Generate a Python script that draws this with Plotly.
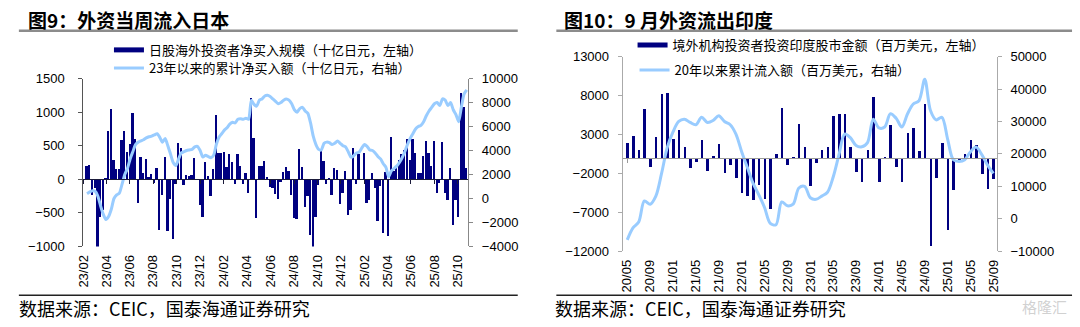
import plotly.graph_objects as go
import pandas as pd

W, H = 1080, 327

# ---------------- Data: Japan (weekly, 10亿日元) ----------------
jp_start = "2023-02-10"
jp_flow = [200, 215, -220, -120, -1020, -560, -450, 25, 720, 1050,
           300, 160, 160, 590, 720, 410, 530, 990, 600, -345,
           340, 95, 305, 45, 85, -55, 175, -750, -230, 340,
           -760, -285, -880, -65, 545, 470, -80, 75, 50, 65,
           320, 5, -370, -560, 260, 60, -240, 165, 970, 395,
           400, 410, 185, 385, 265, -70, 380, 200, -60, 100,
           -195, 1215, 620, -575, 205, 200, 275, 45, -105, -125,
           -205, -290,
           -30, 118, 194, 133, -223, -564, -578, 460, 190, -412,
           -246, -815, -1020, -554, -80,
           427, 275, -57, 20, -223, 180, 147, -365, -199, 137,
           -522, -450, 479, -70, 384, 10, 398, -341, -294, 100,
           -128, -611, -90, -796, 110, -830,
           630, 130, 200, 290, 390, 440, 600, 290, 600, 400,
           100, 100, 360, 580, 400, 210, 580, -200, -45, 560,
           -200, -300, 170, -670, -300, -550, 1290, 1080, 175]
jp_cum = [400, 550, 650, 600, 200, -600, -1300, -1750, -1500, -900,
          0, 300, 450, 1200, 2000, 2500, 3300, 3900, 4500, 4700,
          4800, 4900, 5050, 5150, 5200, 5300, 5400, 5100, 4700, 5000,
          4400, 3700, 3000, 2750, 3300, 3800, 3900, 4000, 4050, 4100,
          4300, 4350, 4000, 3450, 3600, 3500, 3400, 3600, 4500, 5100,
          5400, 5700, 5900, 6200, 6350, 6300, 6600, 6650, 6600, 6700,
          6600, 8200, 7850, 7700, 8200, 8300, 8550, 8600, 8500, 8300,
          8100, 7900,
          8000, 8200, 8300, 8200, 7900, 7400, 7200, 7500, 7600, 7300,
          7100, 6300, 5200, 4500, 4100,
          4050, 4600, 4700, 4650, 4500, 4600, 4800, 4600, 4400, 4300,
          3900, 3450, 3550, 3800, 3850, 4200, 4500, 4350, 4050, 4000,
          3800, 3500, 3300, 2900, 2600, 1800,
          2300, 2500, 2700, 3000, 3400, 3900, 4500, 5000, 5400, 5800,
          6000, 6100, 6400, 6900, 7300, 7600, 7900, 8000, 7750, 8300,
          8200, 7750, 8000, 7400, 7000, 6400, 7600, 8700, 9050]
jp_dates = pd.date_range(jp_start, periods=len(jp_flow), freq="7D")
jp_tick_dates = ["2023-02-01", "2023-04-01", "2023-06-01", "2023-08-01", "2023-10-01",
                 "2023-12-01", "2024-02-01", "2024-04-01", "2024-06-01", "2024-08-01",
                 "2024-10-01", "2024-12-01", "2025-02-01", "2025-04-01", "2025-06-01",
                 "2025-08-01", "2025-10-01"]
jp_tick_labels = ["23/02", "23/04", "23/06", "23/08", "23/10", "23/12", "24/02", "24/04",
                  "24/06", "24/08", "24/10", "24/12", "25/02", "25/04", "25/06", "25/08", "25/10"]

# ---------------- Data: India (monthly, 百万美元) ----------------
in_months = ["20/05", "20/06", "20/07", "20/08", "20/09", "20/10", "20/11", "20/12",
             "21/01", "21/02", "21/03", "21/04", "21/05", "21/06", "21/07", "21/08",
             "21/09", "21/10", "21/11", "21/12", "22/01", "22/02", "22/03", "22/04",
             "22/05", "22/06", "22/07", "22/08", "22/09", "22/10", "22/11", "22/12",
             "23/01", "23/02", "23/03", "23/04", "23/05", "23/06", "23/07", "23/08",
             "23/09", "23/10", "23/11", "23/12", "24/01", "24/02", "24/03", "24/04",
             "24/05", "24/06", "24/07", "24/08", "24/09", "24/10", "24/11", "24/12",
             "25/01", "25/02", "25/03", "25/04", "25/05", "25/06", "25/07", "25/08", "25/09"]
in_flow = [2000, 2900, 1000, 6300, -1100, 2700, 8200, 8400, 2500, 3600,
           1500, -1300, -450, 2400, -1600, 300, 1800, -1900, -850, -2600,
           -4500, -4800, -5400, -3500, -5200, -6500, 600, 6500, -900, 100,
           4400, 1400, -3600, -650, 1000, 1500, 5400, 5700, 5700, 1500,
           -1800, -3000, 1000, 7900, -3100, 200, 4300, -1100, -3100, 3200,
           3900, 900, 6900, -11300, -2600, 1900, -9200, -4100, -200, 500,
           2300, 1700, -2000, -4000, -2700]
in_cum = [-6500, -2800, -1000, 5500, 4500, 7000, 14000, 22000, 26800, 30000,
          30700, 29700, 29000, 31300, 29700, 30300, 31800, 30000, 29000, 26100,
          20700, 15800, 10900, 7400, 3500, -1400, -1800, 5200, 4000, 4500,
          9500, 10000, 6500, 6000, 7000, 8200, 12900, 19700, 26100, 25000,
          22600, 22200, 23500, 30700, 28000, 28300, 32400, 31000, 28300, 32400,
          35400, 36400, 43000, 33400, 30500, 31300, 24600, 18200, 17700, 18200,
          20700, 22100, 19700, 16500, 14000]
in_tick_labels = ["20/05", "20/09", "21/01", "21/05", "21/09", "22/01", "22/05", "22/09",
                  "23/01", "23/05", "23/09", "24/01", "24/05", "24/09", "25/01", "25/05", "25/09"]

jp_bar_name = "日股海外投资者净买入规模（十亿日元，左轴）"
jp_line_name = "23年以来的累计净买入额（十亿日元，右轴）"
in_bar_name = "境外机构投资者投资印度股市金额（百万美元，左轴）"
in_line_name = "20年以来累计流入额（百万美元，右轴）"

NAVY = "#000080"
LBLUE = "#99CCFF"
CJK = "Noto Sans CJK SC"
NUM = "Liberation Sans, Arial, sans-serif"


def px(x):
    return x / W


def py(y):
    return 1 - y / H


jp_yrange = [-1000, 1500]
jp_y2range = [-4000, 10000]
in_yrange = [-12000, 13000]
in_y2range = [-10000, 50000]
jp_ydom = [py(251), py(75)]
in_ydom = [py(256), py(52)]


def zero_pos(dom, rng):
    return dom[0] + (0 - rng[0]) / (rng[1] - rng[0]) * (dom[1] - dom[0])


fig = go.Figure()

# Japan
fig.add_trace(go.Bar(x=jp_dates, y=jp_flow, marker=dict(color=NAVY, line=dict(width=0)),
                     width=4.6 * 86400000, xaxis="x", yaxis="y", showlegend=False,
                     name=jp_bar_name, legendgroup="jpb"))
fig.add_trace(go.Scatter(x=[None], y=[None], mode="lines", line=dict(color=NAVY, width=5),
                         name=jp_bar_name, legendgroup="jpb", legend="legend",
                         xaxis="x", yaxis="y"))
fig.add_trace(go.Scatter(x=jp_dates, y=jp_cum, mode="lines",
                         line=dict(color=LBLUE, width=3, shape="spline", smoothing=0.6),
                         xaxis="x", yaxis="y2", name=jp_line_name, legend="legend2"))
fig.add_trace(go.Scatter(x=[jp_dates[0]], y=[0], mode="markers", marker=dict(opacity=0),
                         xaxis="x3", yaxis="y", showlegend=False, hoverinfo="skip"))

# India
fig.add_trace(go.Bar(x=in_months, y=in_flow, marker=dict(color=NAVY, line=dict(width=0)),
                     width=0.45, xaxis="x2", yaxis="y3", showlegend=False,
                     name=in_bar_name, legendgroup="inb"))
fig.add_trace(go.Scatter(x=[None], y=[None], mode="lines", line=dict(color=NAVY, width=5),
                         name=in_bar_name, legendgroup="inb", legend="legend3",
                         xaxis="x2", yaxis="y3"))
fig.add_trace(go.Scatter(x=in_months, y=in_cum, mode="lines",
                         line=dict(color=LBLUE, width=3, shape="spline", smoothing=0.9),
                         xaxis="x2", yaxis="y4", name=in_line_name, legend="legend4"))
fig.add_trace(go.Scatter(x=[in_months[0]], y=[0], mode="markers", marker=dict(opacity=0),
                         xaxis="x4", yaxis="y3", showlegend=False, hoverinfo="skip"))

tickfont = dict(family=NUM, size=13, color="#000")
yax_common = dict(showgrid=False, zeroline=False, showline=True, linewidth=1,
                  ticks="outside", ticklen=4, tickfont=tickfont, fixedrange=True,
                  tickformat="d")

legend_common = dict(font=dict(family=CJK, size=13, color="#000"), bgcolor="rgba(0,0,0,0)",
                     xanchor="left", yanchor="middle", itemwidth=30, borderwidth=0,
                     tracegroupgap=0)

fig.update_layout(
    width=W, height=H, margin=dict(l=0, r=0, t=0, b=0),
    paper_bgcolor="white", plot_bgcolor="white", bargap=0,
    xaxis=dict(domain=[px(77), px(466)], type="date", range=["2023-01-31", "2025-10-28"],
               tickvals=jp_tick_dates, ticktext=jp_tick_labels, tickangle=-90,
               showgrid=False, zeroline=False, showline=False, ticks="",
               tickfont=tickfont, anchor="y", ticklabelstandoff=5),
    xaxis3=dict(overlaying="x", anchor="free", position=zero_pos(jp_ydom, jp_yrange),
                type="date", range=["2023-01-31", "2025-10-28"], tickvals=jp_tick_dates,
                showticklabels=False, showgrid=False, zeroline=False, showline=True,
                linecolor="#1a1a3a", linewidth=1, ticks="outside", ticklen=4,
                tickcolor="#1a1a3a", side="bottom", layer="above traces"),
    yaxis=dict(domain=jp_ydom, range=jp_yrange, tick0=-1000, dtick=500, anchor="x",
               linecolor="#555", tickcolor="#555", ticklabelstandoff=11, **yax_common),
    yaxis2=dict(overlaying="y", side="right", range=jp_y2range, tick0=-4000, dtick=2000,
                anchor="x", linecolor="#888", tickcolor="#888", ticklabelstandoff=6,
                **yax_common),
    xaxis2=dict(domain=[px(622), px(1000)], type="category", range=[-0.8, 64.6],
                tickvals=in_tick_labels, ticktext=in_tick_labels, tickangle=-90,
                showgrid=False, zeroline=False, showline=False, ticks="",
                tickfont=tickfont, anchor="y3", ticklabelstandoff=5),
    xaxis4=dict(overlaying="x2", anchor="free", position=zero_pos(in_ydom, in_yrange),
                type="category", range=[-0.8, 64.6], tickvals=in_tick_labels,
                showticklabels=False, showgrid=False, zeroline=False, showline=True,
                linecolor="#9a9a9a", linewidth=1, ticks="outside", ticklen=4,
                tickcolor="#9a9a9a", side="bottom", layer="above traces"),
    yaxis3=dict(domain=in_ydom, range=in_yrange, tick0=-12000, dtick=5000, anchor="x2",
                linecolor="#aaa", tickcolor="#aaa", ticklabelstandoff=6, **yax_common),
    yaxis4=dict(overlaying="y3", side="right", range=in_y2range, tick0=-10000, dtick=10000,
                anchor="x2", linecolor="#aaa", tickcolor="#aaa", ticklabelstandoff=6,
                **yax_common),
    legend=dict(x=px(103), y=py(45), **legend_common),
    legend2=dict(x=px(103), y=py(64), **legend_common),
    legend3=dict(x=px(632), y=py(40), **legend_common),
    legend4=dict(x=px(634), y=py(66), **legend_common),
)

# Titles, rules and source lines (centred on the reference text spans)
title_font = dict(family=CJK, size=19, color="#000", weight="bold")
src_font = dict(family=CJK, size=18, color="#000")
ann_common = dict(xref="paper", yref="paper", yanchor="middle", showarrow=False,
                  xanchor="center")
fig.add_annotation(x=px(123), y=py(13), text="图9：外资当周流入日本", font=title_font,
                   **ann_common)
fig.add_annotation(x=px(668), y=py(13), text="图10：9 月外资流出印度", font=title_font,
                   **ann_common)
fig.add_annotation(x=px(159), y=py(315), text="数据来源：CEIC，国泰海通证券研究",
                   font=src_font, **ann_common)
fig.add_annotation(x=px(701), y=py(315), text="数据来源：CEIC，国泰海通证券研究",
                   font=src_font, **ann_common)
fig.add_annotation(x=px(1048), y=py(314), text="格隆汇",
                   font=dict(family=CJK, size=15, color="rgba(170,170,170,0.55)"),
                   **ann_common)

for x0, x1 in [(12, 516), (555, 1076)]:
    fig.add_shape(type="line", xref="paper", yref="paper", x0=px(x0), x1=px(x1),
                  y0=py(25), y1=py(25), line=dict(color="#8c8c8c", width=2.5))
    fig.add_shape(type="line", xref="paper", yref="paper", x0=px(x0), x1=px(x1),
                  y0=py(302), y1=py(302), line=dict(color="#222", width=1.5))

fig.write_html("out.html")
